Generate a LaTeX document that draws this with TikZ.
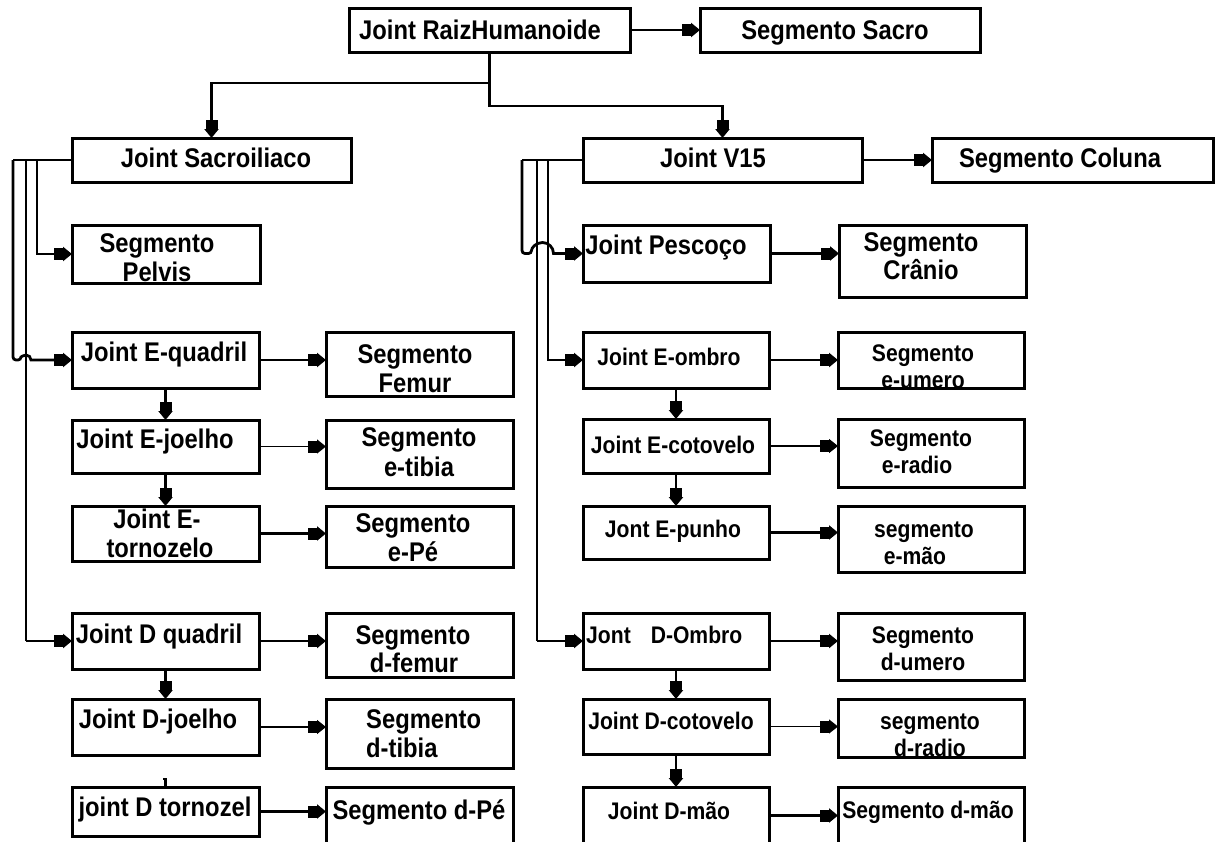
\documentclass[tikz,border=0pt]{standalone}
\usepackage{fontspec}
\setmainfont{Liberation Sans}
\newfontfamily\labelfont{Liberation Sans}[FakeStretch=0.88]
\usetikzlibrary{arrows.meta}
\tikzset{
  box/.style={draw=black, line width=3pt, rectangle, inner sep=0pt, outer sep=0pt},
  big/.style={font=\labelfont\bfseries\fontsize{27}{30}\selectfont, inner sep=0pt, anchor=base},
  small/.style={font=\labelfont\bfseries\fontsize{24}{28}\selectfont, inner sep=0pt, anchor=base},
  link/.style={line width=2.8pt},
  fine/.style={line width=1.4pt},
  arr/.style={-{Rectangle[length=9pt,width=12pt]Triangle[length=9pt,width=14pt]}},
}
% box: name, left, top, right, bottom (pixel-like units, y downwards)
\newcommand\bx[5]{\node[box, minimum width={(#4-#2)*1pt}, minimum height={(#5-#3)*1pt}] (#1) at ({(#2+#4)/2},{(#3+#5)/2}) {};}
% text line: style, name, x, baseline y, text
\newcommand\tx[5]{\node[#1] (#2) at (#3,#4) {#5};}
\begin{document}
\begin{tikzpicture}[x=1pt,y=-1pt]
\fill[white] (0,0) rectangle (1217,841);
\useasboundingbox (0,0) rectangle (1217,841);
\clip (0,0) rectangle (1217,841);

% ---------- labels ----------
\tx{big}{t-raiz}{480}{39}{Joint RaizHumanoide}
\tx{big}{t-sacro}{835}{39}{Segmento Sacro}
\tx{big}{t-sac}{216}{167}{Joint Sacroiliaco}
\tx{big}{t-v15}{713}{167}{Joint V15}
\tx{big}{t-col}{1060}{167}{Segmento Coluna}
\tx{big}{t-pel1}{157}{252}{Segmento}
\tx{big}{t-pel2}{157}{281}{Pelvis}
\tx{big}{t-pesc}{666}{254}{Joint Pescoço}
\tx{big}{t-cran1}{921}{251}{Segmento}
\tx{big}{t-cran2}{921}{279}{Crânio}
\tx{big}{t-eq}{164}{361}{Joint E-quadril}
\tx{big}{t-fem1}{415}{363}{Segmento}
\tx{big}{t-fem2}{415}{392}{Femur}
\tx{big}{t-ej}{155}{448}{Joint E-joelho}
\tx{big}{t-etib1}{419}{446}{Segmento}
\tx{big}{t-etib2}{419}{476}{e-tibia}
\tx{big}{t-et1}{157}{528}{Joint E-}
\tx{big}{t-et2}{160}{557}{tornozelo}
\tx{big}{t-epe1}{413}{532}{Segmento}
\tx{big}{t-epe2}{413}{561}{e-Pé}
\tx{big}{t-dq}{159}{643}{Joint D quadril}
\tx{big}{t-dfem1}{413}{644}{Segmento}
\tx{big}{t-dfem2}{414}{672}{d-femur}
\tx{big}{t-dj}{158}{728}{Joint D-joelho}
\tx{big,anchor=base west}{t-dtib1}{366}{728}{Segmento}
\tx{big,anchor=base west}{t-dtib2}{366}{757}{d-tibia}
\tx{big}{t-dt}{165}{816}{joint D tornozel}
\tx{big}{t-dpe}{419}{819}{Segmento d-Pé}

\tx{small}{t-eo}{669}{365}{Joint E-ombro}
\tx{small}{t-eum1}{923}{361}{Segmento}
\tx{small}{t-eum2}{923}{388}{e-umero}
\tx{small}{t-ec}{673}{453}{Joint E-cotovelo}
\tx{small}{t-erad1}{921}{446}{Segmento}
\tx{small}{t-erad2}{917}{473}{e-radio}
\tx{small}{t-ep}{673}{537}{Jont E-punho}
\tx{small}{t-emao1}{924}{537}{segmento}
\tx{small}{t-emao2}{915}{564}{e-mão}
\tx{small,anchor=base west}{t-do}{586}{643}{Jont\hspace{20pt}D-Ombro}
\tx{small}{t-dum1}{923}{643}{Segmento}
\tx{small}{t-dum2}{923}{670}{d-umero}
\tx{small}{t-dc}{671}{729}{Joint D-cotovelo}
\tx{small}{t-drad1}{930}{729}{segmento}
\tx{small}{t-drad2}{930}{756}{d-radio}
\tx{small}{t-dm}{669}{819}{Joint D-mão}
\tx{small}{t-dmao}{928}{818}{Segmento d-mão}

% ---------- boxes ----------
\bx{raiz}{349}{8}{630}{52}
\bx{sacro}{700}{8}{980}{52}
\bx{sac}{72}{138}{351}{182}
\bx{v15}{583}{138}{862}{182}
\bx{col}{932}{138}{1213}{182}
\bx{pel}{72}{225}{260}{283}
\bx{pesc}{583}{225}{770}{282}
\bx{cran}{839}{225}{1026}{297}
\bx{eq}{72}{332}{259}{388}
\bx{fem}{326}{332}{513}{396}
\bx{ej}{72}{420}{259}{473}
\bx{etib}{326}{420}{513}{488}
\bx{et}{72}{506}{259}{561}
\bx{epe}{326}{506}{513}{567}
\bx{dq}{72}{613}{259}{669}
\bx{dfem}{326}{613}{513}{677}
\bx{dj}{72}{699}{259}{755}
\bx{dtib}{326}{699}{513}{768}
\bx{dt}{72}{787}{259}{836}
\bx{dpe}{326}{787}{513}{844}
\bx{eo}{583}{332}{769}{388}
\bx{eum}{838}{332}{1024}{388}
\bx{ec}{583}{419}{769}{473}
\bx{erad}{838}{419}{1024}{487}
\bx{ep}{583}{506}{769}{559}
\bx{emao}{838}{506}{1024}{572}
\bx{do}{583}{613}{769}{669}
\bx{dum}{838}{613}{1024}{680}
\bx{dc}{583}{699}{769}{754}
\bx{drad}{838}{699}{1024}{757}
\bx{dm}{583}{787}{769}{844}
\bx{dmao}{838}{787}{1024}{844}

% ---------- bus columns ----------
\coordinate (Lo) at (13,0);
\coordinate (Lm) at (26,0);
\coordinate (Li) at (37,0);
\coordinate (Ro) at (522,0);
\coordinate (Rm) at (537,0);
\coordinate (Ri) at (548,0);
\coordinate (Rh) at (542.5,0);

% ---------- root connectors ----------
\draw[link,arr] (raiz.east) -- (sacro.west);
\draw[link,arr] (raiz.south) -- ++(0,31) -| (sac.north);
\draw[link,arr] (raiz.south) -- ++(0,54) -| (v15.north);
\draw[link,arr] (v15.east) -- (col.west);

% ---------- left bus ----------
\draw[link] (sac.west) -- (sac.west -| Lo);
\draw[link,arr] (sac.west -| Li) |- (pel.west);
\draw[link,arr,rounded corners=3pt] (sac.west -| Lo) -- (eq.west -| Lo)
  -- ([xshift=-5pt]eq.west -| Lm) [sharp corners] arc[start angle=180,end angle=0,radius=5pt]
  -- (eq.west);
\draw[fine] (sac.west -| Lm) -- (dq.west -| Lm);
\draw[link,arr] (dq.west -| Lm) -- (dq.west);

% ---------- right bus ----------
\draw[link] (v15.west) -- (v15.west -| Ro);
\draw[link,arr,rounded corners=3pt] (v15.west -| Ro) -- (pesc.west -| Ro)
  -- ([xshift=-11pt]pesc.west -| Rh) [sharp corners] arc[start angle=180,end angle=0,radius=11pt]
  -- (pesc.west);
\draw[link,arr] (v15.west -| Ri) |- (eo.west);
\draw[fine] (v15.west -| Rm) -- (do.west -| Rm);
\draw[link,arr] (do.west -| Rm) -- (do.west);

% ---------- joint to segment ----------
\draw[link,arr] (pesc.east) -- (pesc.east -| cran.west);
\draw[link,arr] (eq.east) -- (eq.east -| fem.west);
\draw[fine,arr] (ej.east) -- (ej.east -| etib.west);
\draw[link,arr] (et.east) -- (et.east -| epe.west);
\draw[link,arr] (dq.east) -- (dq.east -| dfem.west);
\draw[fine,arr] (dj.east) -- (dj.east -| dtib.west);
\draw[link,arr] (dt.east) -- (dt.east -| dpe.west);
\draw[link,arr] (eo.east) -- (eo.east -| eum.west);
\draw[fine,arr] (ec.east) -- (ec.east -| erad.west);
\draw[link,arr] (ep.east) -- (ep.east -| emao.west);
\draw[link,arr] (do.east) -- (do.east -| dum.west);
\draw[fine,arr] (dc.east) -- (dc.east -| drad.west);
\draw[link,arr] (dm.east) -- (dm.east -| dmao.west);

% ---------- chains ----------
\draw[link,arr] (eq.south) -- (ej.north);
\draw[link,arr] (ej.south) -- (et.north);
\draw[link,arr] (dq.south) -- (dj.north);
\draw[link] (dt.north) -- ++(0,-8) -- ++(-3,0);
\draw[link,arr] (eo.south) -- (ec.north);
\draw[link,arr] (ec.south) -- (ep.north);
\draw[link,arr] (do.south) -- (dc.north);
\draw[link,arr] (dc.south) -- (dm.north);
\end{tikzpicture}
\end{document}
